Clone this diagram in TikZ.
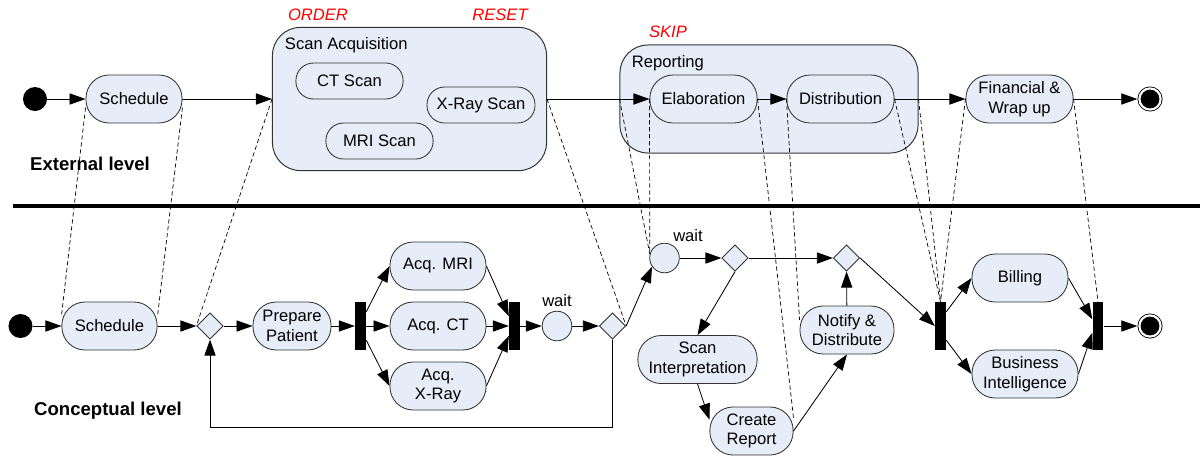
\documentclass[tikz,border=0pt]{standalone}
\usepackage{fontspec}
\setmainfont{Liberation Sans}
\usetikzlibrary{shapes.geometric, arrows.meta}
\definecolor{actfill}{RGB}{230,236,248}

\begin{document}
\begin{tikzpicture}[x=0.025cm, y=-0.025cm,
    font=\fontsize{11.8}{14}\selectfont,
    action/.style={rectangle, draw=black!80, fill=actfill, line width=0.6pt, rounded corners=0.58cm, minimum height=1.2cm, align=center, inner sep=1pt},
    scanstep/.style={action, rounded corners=0.44cm, minimum height=0.9cm},
    region/.style={rectangle, draw=black!80, fill=actfill, line width=0.7pt, rounded corners=0.7cm},
    decision/.style={diamond, draw=black!80, fill=actfill, line width=0.6pt, minimum width=0.66cm, minimum height=0.66cm, inner sep=0pt},
    waitstate/.style={circle, draw=black!80, fill=actfill, line width=0.6pt, minimum size=0.74cm, inner sep=0pt},
    bar/.style={rectangle, fill=black, minimum width=0.27cm, minimum height=1.2cm, inner sep=0pt},
    startdot/.style={circle, fill=black, minimum size=0.6cm, inner sep=0pt},
    enddot/.style={circle, draw=black, fill=black, line width=0.6pt, double=white, double distance=1.5pt, minimum size=0.53cm, inner sep=0pt, outer sep=1.5pt},
    arrow/.style={-{Triangle[length=4mm, width=2.8mm]}, line width=0.6pt},
    trace/.style={dash pattern=on 3pt off 2pt, line width=0.5pt},
    level/.style={font=\fontsize{13.2}{15}\selectfont\bfseries},
    mode/.style={text=red, font=\fontsize{11.8}{14}\selectfont\itshape}]
    \useasboundingbox (0,0) rectangle (1200,462);

    \node [region, minimum width=6.85cm, minimum height=3.58cm] (scanacq) at (409.5,99) {};
    \node [anchor=west] (scanacq-title) at (280,45) {Scan Acquisition};
    \node [region, minimum width=7.45cm, minimum height=2.7cm] (reporting) at (769,99) {};
    \node [anchor=west] (reporting-title) at (627,63) {Reporting};
    \node [mode] (order) at (318,15) {ORDER};
    \node [mode] (reset) at (500,15) {RESET};
    \node [mode] (skip) at (668,32) {SKIP};

    \node [startdot] (start1) at (35,99) {};
    \node [action, minimum width=2.4cm] (sched1) at (134,99) {Schedule};
    \node [scanstep, minimum width=2.68cm] (ctscan) at (349.5,81) {CT Scan};
    \node [scanstep, minimum width=2.68cm] (mriscan) at (379.5,141) {MRI Scan};
    \node [scanstep, minimum width=2.7cm] (xrayscan) at (481,105) {X-Ray Scan};
    \node [action, minimum width=2.68cm] (elab) at (703.5,99) {Elaboration};
    \node [action, minimum width=2.68cm] (distrib) at (840.5,99) {Distribution};
    \node [action, minimum width=2.68cm] (finance) at (1019.5,99) {Financial \&\\Wrap up};
    \node [enddot] (end1) at (1150,99) {};

    \node [level] (extlevel) at (90,164) {External level};
    \node [level] (conclevel) at (108,411) {Conceptual level};
    \draw [line width=2.8pt] (13,206) -- (1200,206);

    \node [startdot] (start2) at (20.5,326) {};
    \node [action, minimum width=2.38cm] (sched2) at (109.5,326) {Schedule};
    \node [decision] (dec1) at (210,326) {};
    \node [action, minimum width=1.95cm] (prep) at (292,326) {Prepare\\Patient};
    \node [bar] (fork1) at (360.5,326) {};
    \node [action, minimum width=2.4cm] (acqmri) at (438,266) {Acq. MRI};
    \node [action, minimum width=2.4cm] (acqct) at (438,326) {Acq. CT};
    \node [action, minimum width=2.4cm] (acqxray) at (438,386) {Acq.\\X-Ray};
    \node [bar] (join1) at (514.5,326) {};
    \node [waitstate] (wait1) at (557,326) {};
    \node (wait1-label) at (557,301) {wait};
    \node [decision] (dec2) at (612.5,326) {};
    \node [waitstate] (wait2) at (664.5,258) {};
    \node (wait2-label) at (688,236) {wait};
    \node [decision] (dec3) at (735,258) {};
    \node [decision] (dec4) at (846.5,258) {};
    \node [action, minimum width=2.98cm] (interp) at (697.5,359.5) {Scan\\Interpretation};
    \node [action, minimum width=2.08cm] (report) at (751.5,431) {Create\\Report};
    \node [action, minimum width=2.35cm] (notify) at (847,330) {Notify \&\\Distribute};
    \node [bar] (fork2) at (940.5,326) {};
    \node [action, minimum width=2.4cm] (billing) at (1020,278) {Billing};
    \node [action, minimum width=2.65cm] (bi) at (1025,374) {Business\\Intelligence};
    \node [bar] (join2) at (1098,326) {};
    \node [enddot] (end2) at (1150,326) {};

    \draw [arrow] (start1) -- (sched1);
    \draw [arrow] (sched1) -- (scanacq);
    \draw [arrow] (scanacq) -- (elab);
    \draw [arrow] (elab) -- (distrib);
    \draw [arrow] (distrib) -- (finance);
    \draw [arrow] (finance) -- (end1);

    \draw [arrow] (start2) -- (sched2);
    \draw [arrow] (sched2) -- (dec1);
    \draw [arrow] (dec1) -- (prep);
    \draw [arrow] (prep) -- (fork1);
    \draw [arrow] (fork1.68) -- (acqmri.west);
    \draw [arrow] (fork1) -- (acqct);
    \draw [arrow] (fork1.-68) -- (acqxray.west);
    \draw [arrow] (acqmri.east) -- (join1.120);
    \draw [arrow] (acqct) -- (join1);
    \draw [arrow] (acqxray.east) -- (join1.240);
    \draw [arrow] (join1) -- (wait1);
    \draw [arrow] (wait1) -- (dec2);
    \draw [arrow] (dec2.south) -- ++(0,88) -| (dec1.south);
    \draw [arrow] (dec2.east) -- (wait2.215);
    \draw [arrow] (wait2) -- (dec3);
    \draw [arrow] (dec3) -- (dec4);
    \draw [arrow] (dec3.south) -- (interp.north);
    \draw [arrow] (interp.south) -- (report.165);
    \draw [arrow] (report.east) -- (notify.south);
    \draw [arrow] (notify) -- (dec4);
    \draw [arrow] (dec4.east) -- (fork2.west);
    \draw [arrow] (fork2.68) -- (billing.west);
    \draw [arrow] (fork2.-68) -- (bi.west);
    \draw [arrow] (billing.east) -- (join2.130);
    \draw [arrow] (bi.east) -- (join2.230);
    \draw [arrow] (join2) -- (end2);

    \draw [trace] (sched1.190) -- (sched2.168);
    \draw [trace] (sched1.-10) -- (sched2.12);
    \draw [trace] (scanacq.west) -- (dec1.west);
    \draw [trace] (scanacq.east) -- (dec2.east);
    \draw [trace] (reporting.west) -- (wait2.165);
    \draw [trace] (elab.west) -- (wait2.165);
    \draw [trace] (elab.east) -- (report.17);
    \draw [trace] (distrib.west) -- (notify.168);
    \draw [trace] (distrib.east) -- (fork2.north);
    \draw [trace] (reporting.east) -- (fork2.north);
    \draw [trace] (finance.west) -- (fork2.north);
    \draw [trace] (finance.east) -- (join2.north);
\end{tikzpicture}
\end{document}
